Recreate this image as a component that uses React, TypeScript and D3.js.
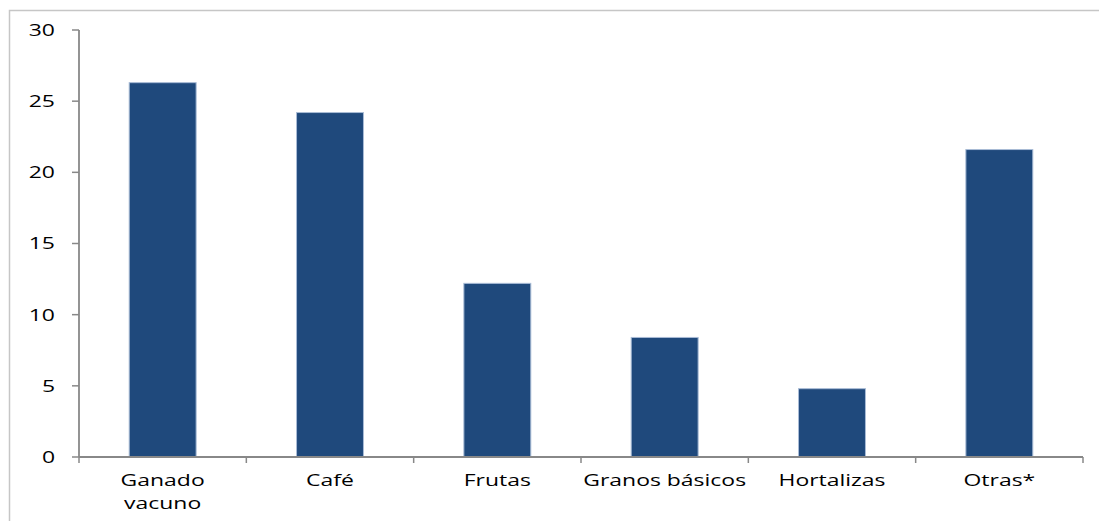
import React, { useEffect, useRef } from 'react';
import * as d3 from 'd3';

const categories = ['Ganado\nvacuno', 'Café', 'Frutas', 'Granos básicos', 'Hortalizas', 'Otras*'];
const values = [26.3, 24.2, 12.2, 8.4, 4.8, 21.6];
const yTicks = [0, 5, 10, 15, 20, 25, 30];

const W = 1099;
const H = 521;
// the source image is stretched horizontally, so the text is too
const STRETCH = 1.35;

export default function App() {
  const svgRef = useRef<SVGSVGElement>(null);

  useEffect(() => {
    document.body.style.margin = '0';
    if (!svgRef.current) return;
    const svg = d3.select(svgRef.current);
    svg.selectAll('*').remove();

    const margin = { top: 30, left: 79, right: 16, bottom: 64 };
    const x0 = margin.left;
    const x1 = W - margin.right;
    const yBase = H - margin.bottom;

    svg.append('rect').attr('width', W).attr('height', H).attr('fill', '#fff');

    // outer frame (only left & top visible)
    svg.append('path')
      .attr('d', `M9.5,${H} V10.5 H${W}`)
      .attr('fill', 'none')
      .attr('stroke', '#c6c6c6')
      .attr('stroke-width', 1.5);

    const x = d3.scaleBand<string>().domain(categories).range([x0, x1]).paddingInner(0.6).paddingOuter(0.3);
    const xb = d3.scaleBand<string>().domain(categories).range([x0, x1]).padding(0);
    const y = d3.scaleLinear().domain([0, 30]).range([yBase, margin.top]);

    // bars
    svg.append('g')
      .selectAll('rect')
      .data(values)
      .join('rect')
      .attr('x', (_, i) => x(categories[i])!)
      .attr('y', d => y(d))
      .attr('width', x.bandwidth())
      .attr('height', d => yBase - y(d))
      .attr('fill', '#1f497c')
      .attr('stroke', '#a9bcd6')
      .attr('stroke-width', 1);

    const axisColor = '#888';

    // y axis
    const yAxis = svg.append('g');
    yAxis.append('line')
      .attr('x1', x0).attr('x2', x0)
      .attr('y1', y(30)).attr('y2', yBase)
      .attr('stroke', axisColor).attr('stroke-width', 1.8);
    yAxis.selectAll('line.tick')
      .data(yTicks)
      .join('line')
      .attr('class', 'tick')
      .attr('x1', x0 - 7).attr('x2', x0)
      .attr('y1', d => y(d)).attr('y2', d => y(d))
      .attr('stroke', axisColor).attr('stroke-width', 1.5);
    yAxis.selectAll('text')
      .data(yTicks)
      .join('text')
      .attr('transform', d => `translate(${x0 - 24},${y(d)}) scale(${STRETCH},1)`)
      .attr('dy', '0.35em')
      .attr('text-anchor', 'end')
      .attr('font-family', 'Open Sans, sans-serif')
      .attr('font-size', 17)
      .attr('fill', '#000')
      .text(d => d);

    // x axis
    const xAxis = svg.append('g');
    xAxis.append('line')
      .attr('x1', x0).attr('x2', x1)
      .attr('y1', yBase).attr('y2', yBase)
      .attr('stroke', axisColor).attr('stroke-width', 1.8);
    const bounds = categories.map(c => xb(c)!).concat([x1]);
    xAxis.selectAll('line.tick')
      .data(bounds)
      .join('line')
      .attr('class', 'tick')
      .attr('x1', d => d).attr('x2', d => d)
      .attr('y1', yBase).attr('y2', yBase + 6)
      .attr('stroke', axisColor).attr('stroke-width', 1.5);
    const labels = xAxis.selectAll('text')
      .data(categories)
      .join('text')
      .attr('transform', d => `translate(${xb(d)! + xb.bandwidth() / 2},${yBase + 29}) scale(${STRETCH},1)`)
      .attr('text-anchor', 'middle')
      .attr('font-family', 'Open Sans, sans-serif')
      .attr('font-size', 17)
      .attr('fill', '#000');
    labels.each(function (d) {
      const t = d3.select(this);
      d.split('\n').forEach((line, i) => {
        t.append('tspan')
          .attr('x', 0)
          .attr('dy', i === 0 ? 0 : 23)
          .text(line);
      });
    });
  }, []);

  return <svg ref={svgRef} width={W} height={H} style={{ display: 'block' }} />;
}
